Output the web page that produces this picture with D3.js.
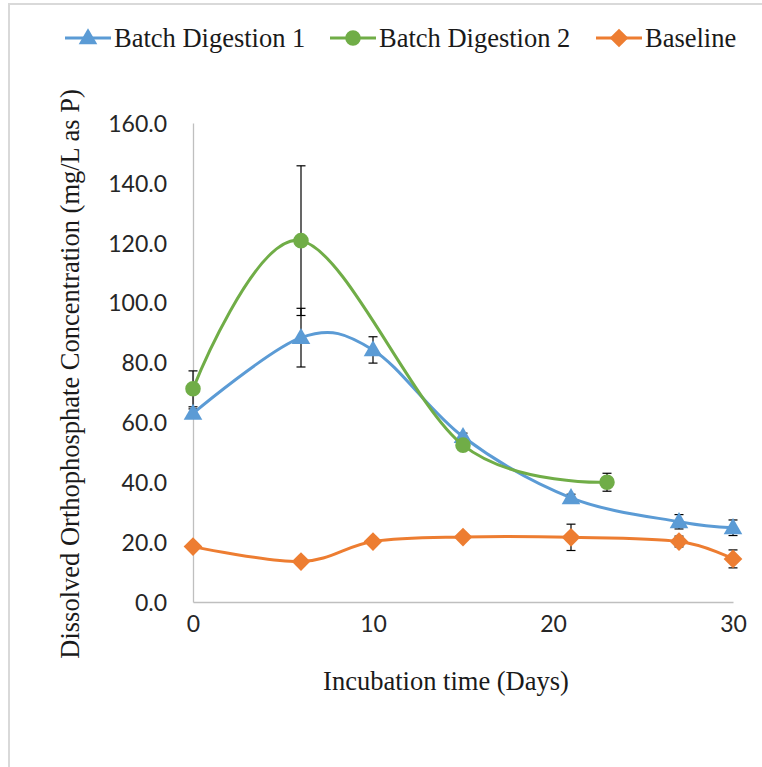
<!DOCTYPE html>
<html>
<head>
<meta charset="utf-8">
<script src="https://cdn.jsdelivr.net/npm/d3@7"></script>
<style>
  html, body { margin: 0; padding: 0; background: #fff; }
  svg { display: block; }
</style>
</head>
<body>
<svg id="chart" width="762" height="767"></svg>
<script>
// Incubation days and measured dissolved orthophosphate (mg/L as P) with error bars
const daysBatch1 = [0, 6, 10, 15, 21, 27, 30];
const batch1 = [63.0, 88.3, 84.2, 55.2, 34.8, 26.8, 24.8];
const batch1Err = [1.5, 9.8, 4.4, 1.2, 1.2, 2.4, 2.6];

const daysBatch2 = [0, 6, 15, 23];
const batch2 = [71.2, 120.7, 52.4, 40.0];
const batch2Err = [6.0, 25.0, 1.2, 3.0];

const daysBaseline = [0, 6, 10, 15, 21, 27, 30];
const baseline = [18.5, 13.5, 20.2, 21.7, 21.6, 20.2, 14.4];
const baselineErr = [0.8, 0.8, 0.8, 0.8, 4.4, 1.8, 3.0];

const xTicks = [0, 10, 20, 30];
const yTicks = [0, 20, 40, 60, 80, 100, 120, 140, 160];
const seriesNames = ["Batch Digestion 1", "Batch Digestion 2", "Baseline"];

const series = [
  { name: seriesNames[0], days: daysBatch1, values: batch1, errs: batch1Err, color: "#5B9BD5", symbol: "triangle" },
  { name: seriesNames[1], days: daysBatch2, values: batch2, errs: batch2Err, color: "#70AD47", symbol: "circle" },
  { name: seriesNames[2], days: daysBaseline, values: baseline, errs: baselineErr, color: "#ED7D31", symbol: "diamond" }
];

const svg = d3.select("#chart");
svg.append("rect").attr("width", 762).attr("height", 767).attr("fill", "#fff");

// outer frame of the chart area
svg.append("path")
  .attr("d", "M9,767 V4 H762")
  .attr("fill", "none")
  .attr("stroke", "#d9d9d9")
  .attr("stroke-width", 2);

const x = d3.scaleLinear().domain([0, 30]).range([193, 733]);
const y = d3.scaleLinear().domain([0, 160]).range([602, 123]);

const tickFont = "Lato, 'Open Sans', sans-serif";
const serif = "'Liberation Serif', 'Times New Roman', serif";

// axes
const xAxis = svg.append("g").attr("transform", `translate(0,${y(0)})`)
  .call(d3.axisBottom(x).tickValues(xTicks).tickSize(0).tickPadding(14).tickFormat(d3.format("d")));
const yAxis = svg.append("g").attr("transform", `translate(${x(0)},0)`)
  .call(d3.axisLeft(y).tickValues(yTicks).tickSize(0).tickPadding(26).tickFormat(d3.format(".1f")));

[xAxis, yAxis].forEach(g => {
  g.select(".domain").attr("stroke", "#bfbfbf").attr("stroke-width", 1.3);
  g.selectAll("text")
    .attr("font-family", tickFont)
    .attr("font-size", 23)
    .attr("fill", "#262626");
});
xAxis.selectAll("text").attr("dy", "0.71em");
yAxis.selectAll("text").attr("dy", "0.36em");

// axis titles
svg.append("text")
  .attr("x", 446).attr("y", 690)
  .attr("text-anchor", "middle")
  .attr("font-family", serif).attr("font-size", 26.5).attr("fill", "#1a1a1a")
  .text("Incubation time (Days)");

svg.append("text")
  .attr("transform", "translate(79,374) rotate(-90)")
  .attr("text-anchor", "middle")
  .attr("font-family", serif).attr("font-size", 26.5).attr("fill", "#1a1a1a")
  .text("Dissolved Orthophosphate Concentration (mg/L as P)");

// marker shapes
function markerPath(kind) {
  if (kind === "triangle") return d3.symbol(d3.symbolTriangle, 150)();
  if (kind === "circle") return d3.symbol(d3.symbolCircle, 190)();
  return d3.symbol(d3.symbolSquare, 175)();
}
function markerTransform(kind, px, py) {
  if (kind === "triangle") return `translate(${px},${py + 1})`;
  if (kind === "diamond") return `translate(${px},${py}) rotate(45)`;
  return `translate(${px},${py})`;
}

// error bars
const errG = svg.append("g").attr("stroke", "#000").attr("stroke-width", 1.2);
series.forEach(s => {
  s.days.forEach((d, i) => {
    const px = x(d), top = y(s.values[i] + s.errs[i]), bot = y(s.values[i] - s.errs[i]);
    errG.append("line").attr("x1", px).attr("x2", px).attr("y1", top).attr("y2", bot);
    errG.append("line").attr("x1", px - 4.5).attr("x2", px + 4.5).attr("y1", top).attr("y2", top);
    errG.append("line").attr("x1", px - 4.5).attr("x2", px + 4.5).attr("y1", bot).attr("y2", bot);
  });
});

// smoothed lines and markers
const line = d3.line()
  .x(d => x(d[0]))
  .y(d => y(d[1]))
  .curve(d3.curveCardinal.tension(0));

series.forEach(s => {
  const pts = s.days.map((d, i) => [d, s.values[i]]);
  svg.append("path")
    .attr("d", line(pts))
    .attr("fill", "none")
    .attr("stroke", s.color)
    .attr("stroke-width", 3)
    .attr("stroke-linecap", "round");
  svg.append("g").selectAll("path").data(pts).join("path")
    .attr("d", markerPath(s.symbol))
    .attr("transform", d => markerTransform(s.symbol, x(d[0]), y(d[1])))
    .attr("fill", s.color);
});

// legend
const legendX = [65, 330, 596];
const legend = svg.append("g");
series.forEach((s, i) => {
  const lx = legendX[i];
  legend.append("line")
    .attr("x1", lx).attr("x2", lx + 46).attr("y1", 38).attr("y2", 38)
    .attr("stroke", s.color).attr("stroke-width", 3);
  legend.append("path")
    .attr("d", markerPath(s.symbol))
    .attr("transform", markerTransform(s.symbol, lx + 23, 38))
    .attr("fill", s.color);
  legend.append("text")
    .attr("x", lx + 49).attr("y", 47)
    .attr("font-family", serif).attr("font-size", 26.5).attr("fill", "#1a1a1a")
    .text(s.name);
});
</script>
</body>
</html>
